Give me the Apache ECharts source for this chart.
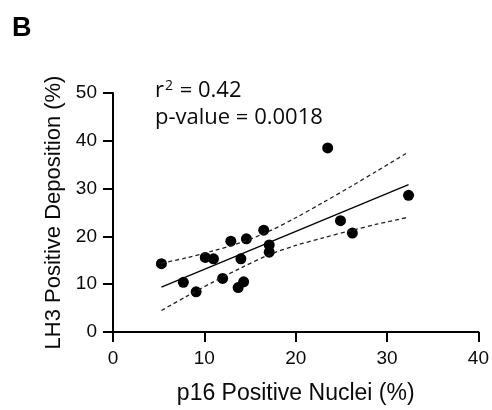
<!DOCTYPE html>
<html>
<head>
<meta charset="utf-8">
<script src="https://cdn.jsdelivr.net/npm/echarts@6/dist/echarts.min.js"></script>
<style>html,body{margin:0;padding:0;background:#fff}#c{width:492px;height:410px}</style>
</head>
<body>
<div id="c"></div>
<script>
// Data
const p16 = [5.3, 7.7, 9.1, 10.1, 11.0, 12.0, 12.9, 13.7, 14.0, 14.3, 14.6, 16.5, 17.1, 17.1, 23.5, 24.9, 26.2, 32.35];
const lh3 = [14.3, 10.4, 8.4, 15.6, 15.3, 11.2, 19.0, 9.3, 15.3, 10.5, 19.5, 21.3, 18.2, 16.7, 38.5, 23.3, 20.7, 28.6];
const fitX = [5.3, 32.35];
const fitY = [9.4, 30.85];
const bandX = [5.3, 8, 11, 14, 17, 20, 23, 26, 29, 32.3];
const bandUpper = [14.4, 15.5, 17.0, 18.7, 21.0, 23.9, 27.1, 30.4, 33.8, 37.6];
const bandLower = [4.5, 7.4, 10.5, 13.4, 16.1, 18.1, 19.7, 21.2, 22.6, 24.0];
const xTicks = {min: 0, max: 40, interval: 10};
const yTicks = {min: 0, max: 50, interval: 10};

const FONT = '"Liberation Sans", Arial, sans-serif';
const NOTE_FONT = '"Open Sans", "Liberation Sans", sans-serif';
const zip = (a, b) => a.map((v, i) => [v, b[i]]);
const chart = echarts.init(document.getElementById('c'), null, {renderer: 'canvas'});
function axisCommon(margin, nameSize) {
  return {
    axisLine: {show: true, onZero: false, lineStyle: {color: '#000', width: 2}},
    axisTick: {show: true, length: 10, lineStyle: {color: '#000', width: 2}},
    axisLabel: {color: '#0a0a0a', fontSize: 19, fontFamily: FONT, margin: margin},
    splitLine: {show: false},
    nameLocation: 'middle',
    nameTextStyle: {color: '#0a0a0a', fontSize: nameSize, fontFamily: FONT}
  };
}
chart.setOption({
  animation: false,
  backgroundColor: '#fff',
  grid: {left: 113, right: 12, top: 93, bottom: 74, containLabel: false},
  xAxis: Object.assign({type: 'value', name: 'p16 Positive Nuclei (%)', nameGap: 50}, xTicks, axisCommon(17, 23)),
  yAxis: Object.assign({type: 'value', name: 'LH3 Positive Deposition (%)', nameGap: 46}, yTicks, axisCommon(16, 22)),
  graphic: [
    {type: 'text', left: 12, top: 15, style: {text: 'B', font: 'bold 27px ' + FONT, fill: '#000'}},
    {type: 'text', left: 155, top: 79, style: {
      text: '{a|r}{s|2}{a| = 0.42}', rich: {
        a: {fontSize: 22, fontFamily: NOTE_FONT, fill: '#0a0a0a'},
        s: {fontSize: 14, fontFamily: NOTE_FONT, fill: '#0a0a0a', verticalAlign: 'top', padding: [0, 1, 10, 1]}
      }}},
    {type: 'text', left: 155, top: 107, style: {text: 'p-value = 0.0018', font: '22px ' + NOTE_FONT, fill: '#0a0a0a'}}
  ],
  series: [
    {type: 'line', data: zip(bandX, bandUpper), symbol: 'none', smooth: 0.3,
      lineStyle: {color: '#222', width: 1.3, type: [4, 3]}},
    {type: 'line', data: zip(bandX, bandLower), symbol: 'none', smooth: 0.3,
      lineStyle: {color: '#222', width: 1.3, type: [4, 3]}},
    {type: 'line', data: zip(fitX, fitY), symbol: 'none',
      lineStyle: {color: '#000', width: 1.3}},
    {type: 'scatter', data: zip(p16, lh3), symbolSize: 11,
      itemStyle: {color: '#000', opacity: 1}}
  ]
});
</script>
</body>
</html>
